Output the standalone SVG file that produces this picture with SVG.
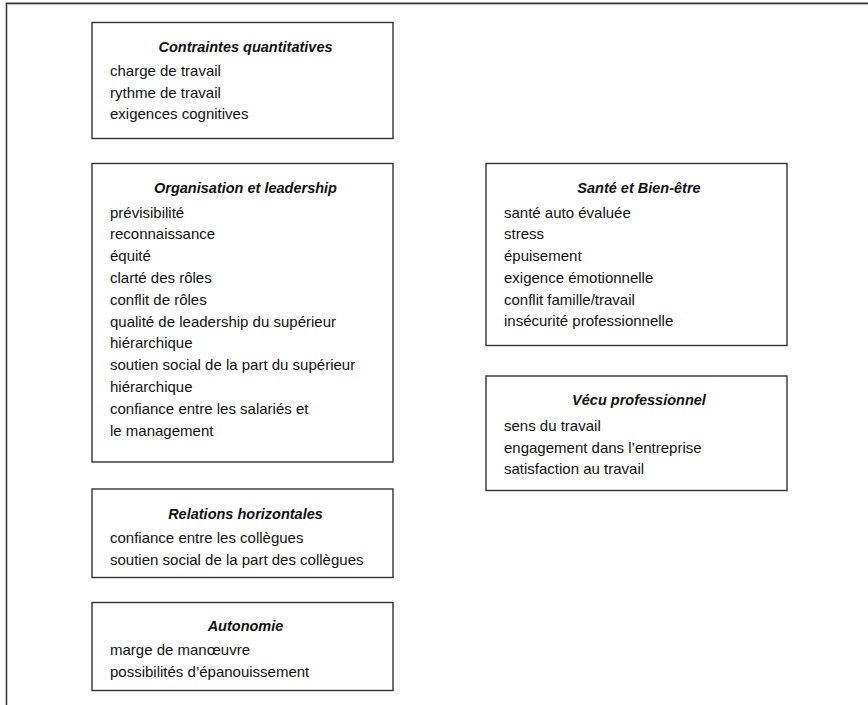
<svg xmlns="http://www.w3.org/2000/svg" width="868" height="705" viewBox="0 0 868 705">
<style>
.box{fill:#fff;stroke:#333;stroke-width:1.4}
.t{font-family:"Liberation Sans",Arial,sans-serif;font-size:14.5px;font-weight:bold;font-style:italic;fill:#111;text-anchor:middle}
.i{font-family:"Liberation Sans",Arial,sans-serif;font-size:15px;fill:#111}
</style>
<rect width="868" height="705" fill="#fff"/>
<g id="frame">
<path d="M6.5,705 V3.2 H868" fill="none" stroke="#333" stroke-width="1.5"/>
<path d="M7.5,4.6 H868" fill="none" stroke="#aaa" stroke-width="0.8"/>
</g>
<g id="connectors"></g>
<g id="contraintes">
<rect class="box" x="92" y="22.5" width="301" height="116"/>
<text class="t" x="245.5" y="52">Contraintes quantitatives</text>
<text class="i" x="110" y="76">charge de travail</text>
<text class="i" x="110" y="97.7">rythme de travail</text>
<text class="i" x="110" y="119.4">exigences cognitives</text>
</g>
<g id="organisation">
<rect class="box" x="92" y="163.5" width="301" height="298.5"/>
<text class="t" x="245.5" y="193">Organisation et leadership</text>
<text class="i" x="110" y="217.5">prévisibilité</text>
<text class="i" x="110" y="239.3">reconnaissance</text>
<text class="i" x="110" y="261.1">équité</text>
<text class="i" x="110" y="282.9">clarté des rôles</text>
<text class="i" x="110" y="304.7">conflit de rôles</text>
<text class="i" x="110" y="326.5">qualité de leadership du supérieur</text>
<text class="i" x="110" y="348.3">hiérarchique</text>
<text class="i" x="110" y="370.1">soutien social de la part du supérieur</text>
<text class="i" x="110" y="391.9">hiérarchique</text>
<text class="i" x="110" y="413.7">confiance entre les salariés et</text>
<text class="i" x="110" y="435.5">le management</text>
</g>
<g id="relations">
<rect class="box" x="92" y="489" width="301" height="88.5"/>
<text class="t" x="245.5" y="518.5">Relations horizontales</text>
<text class="i" x="110" y="543">confiance entre les collègues</text>
<text class="i" x="110" y="564.5">soutien social de la part des collègues</text>
</g>
<g id="autonomie">
<rect class="box" x="92" y="602.5" width="301" height="88"/>
<text class="t" x="245.5" y="631">Autonomie</text>
<text class="i" x="110" y="655">marge de manœuvre</text>
<text class="i" x="110" y="677">possibilités d’épanouissement</text>
</g>
<g id="sante">
<rect class="box" x="486" y="163.5" width="301" height="182"/>
<text class="t" x="639" y="193">Santé et Bien-être</text>
<text class="i" x="504" y="217.7">santé auto évaluée</text>
<text class="i" x="504" y="239.4">stress</text>
<text class="i" x="504" y="261.1">épuisement</text>
<text class="i" x="504" y="282.8">exigence émotionnelle</text>
<text class="i" x="504" y="304.5">conflit famille/travail</text>
<text class="i" x="504" y="326.2">insécurité professionnelle</text>
</g>
<g id="vecu">
<rect class="box" x="486" y="376" width="301" height="114.5"/>
<text class="t" x="639" y="405">Vécu professionnel</text>
<text class="i" x="504" y="431">sens du travail</text>
<text class="i" x="504" y="452.7">engagement dans l’entreprise</text>
<text class="i" x="504" y="474.3">satisfaction au travail</text>
</g>
</svg>
